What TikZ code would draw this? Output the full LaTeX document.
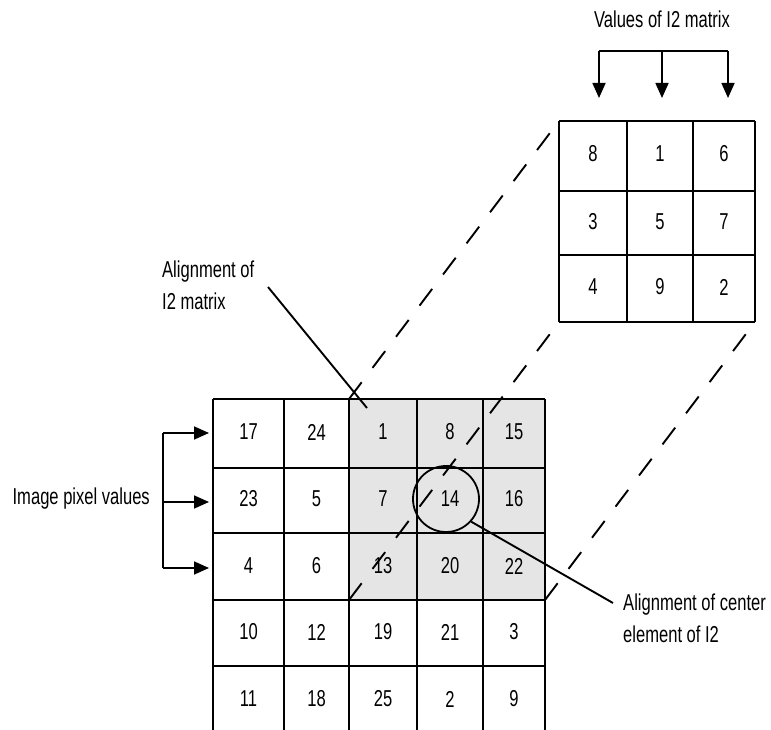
\documentclass[tikz,border=0pt]{standalone}
\usepackage{fontspec}
\setmainfont[FakeStretch=0.72]{Liberation Sans}
\usetikzlibrary{arrows.meta}
\definecolor{shadegray}{RGB}{229,229,229}
\tikzset{
  num/.style={font=\fontsize{23}{23}\selectfont, inner sep=0pt},
  lbl/.style={font=\fontsize{23}{32}\selectfont, inner sep=0pt, align=left},
  gridline/.style={line width=1.8pt},
  guide/.style={line width=1.9pt, dash pattern=on 21pt off 18pt},
  pointer/.style={line width=1.9pt},
  bracket/.style={line width=1.7pt},
  arr/.style={line width=1.7pt, -{Triangle[length=15pt,width=13pt]}},
}
\begin{document}
\begin{tikzpicture}[x=1pt,y=-1pt]
\useasboundingbox (0,0) rectangle (771,730);
% shaded 3x3 window
\fill[shadegray] (349,399) rectangle (545,600);
% big grid
\foreach \x in {213,284,349,417,483,545} \draw[gridline] (\x,399) -- (\x,731);
\foreach \y in {399,468,533,600,666} \draw[gridline] (213,\y) -- (545,\y);
% big grid numbers
\node[num] (b11) at (248.5,432) {17};
\node[num] (b12) at (316.5,432) {24};
\node[num] (b13) at (383,432) {1};
\node[num] (b14) at (450,432) {8};
\node[num] (b15) at (514,432) {15};
\node[num] (b21) at (248.5,499) {23};
\node[num] (b22) at (316.5,499) {5};
\node[num] (b23) at (383,499) {7};
\node[num] (b24) at (450,499) {14};
\node[num] (b25) at (514,499) {16};
\node[num] (b31) at (248.5,566) {4};
\node[num] (b32) at (316.5,566) {6};
\node[num] (b33) at (383,566) {13};
\node[num] (b34) at (450,566) {20};
\node[num] (b35) at (514,566) {22};
\node[num] (b41) at (248.5,632) {10};
\node[num] (b42) at (316.5,632) {12};
\node[num] (b43) at (383,632) {19};
\node[num] (b44) at (450,632) {21};
\node[num] (b45) at (514,632) {3};
\node[num] (b51) at (248.5,699) {11};
\node[num] (b52) at (316.5,699) {18};
\node[num] (b53) at (383,699) {25};
\node[num] (b54) at (450,699) {2};
\node[num] (b55) at (514,699) {9};
% small matrix
\foreach \x in {559,627,693,755} \draw[gridline] (\x,121) -- (\x,322);
\foreach \y in {121,191,255,322} \draw[gridline] (559,\y) -- (755,\y);
\node[num] (s11) at (593,154) {8};
\node[num] (s12) at (660,154) {1};
\node[num] (s13) at (724,154) {6};
\node[num] (s21) at (593,222) {3};
\node[num] (s22) at (660,222) {5};
\node[num] (s23) at (724,222) {7};
\node[num] (s31) at (593,287) {4};
\node[num] (s32) at (660,287) {9};
\node[num] (s33) at (724,287) {2};
% corner coordinates
\coordinate (wTL) at (349,399);
\coordinate (wBL) at (349,600);
\coordinate (wBR) at (545,600);
\coordinate (kTL) at (559,121);
\coordinate (kBL) at (559,322);
\coordinate (kBR) at (755,322);
% circle on centre element
\node[draw, circle, minimum size=66pt, inner sep=0pt, line width=1.8pt] (ring) at (446,499) {};
% dashed projection lines
\draw[guide] (wTL) -- (kTL);
\draw[guide] (wBL) -- (kBL);
\draw[guide] (wBR) -- (kBR);
% labels
\node[lbl, anchor=base] (vals) at (662,28) {Values of I2 matrix};
\node[lbl, anchor=base east] (pix) at (150,504) {Image pixel values};
\node[lbl, anchor=north west] (align) at (162,261) {Alignment of\\I2 matrix};
\node[lbl, anchor=north west] (center) at (623,594) {Alignment of center\\element of I2};
% top bracket with arrows
\coordinate (t1) at (599,51);
\coordinate (t2) at (662,51);
\coordinate (t3) at (728,51);
\coordinate (h1) at (599,98);
\coordinate (h2) at (662,98);
\coordinate (h3) at (728,98);
\draw[bracket] (t1) -- (t3);
\draw[arr] (t1) -- (h1);
\draw[arr] (t2) -- (h2);
\draw[arr] (t3) -- (h3);
% left bracket with arrows
\coordinate (l1) at (163,433);
\coordinate (l2) at (163,502);
\coordinate (l3) at (163,568);
\coordinate (g1) at (209,433);
\coordinate (g2) at (209,502);
\coordinate (g3) at (209,568);
\draw[bracket] (l1) -- (l3);
\draw[arr] (l1) -- (g1);
\draw[arr] (l2) -- (g2);
\draw[arr] (l3) -- (g3);
% pointer lines
\coordinate (p1) at (268,287);
\coordinate (p2) at (367,408);
\draw[pointer] (p1) -- (p2);
\coordinate (q2) at (613,603);
\draw[pointer] (ring.-42) -- (q2);
\end{tikzpicture}
\end{document}
